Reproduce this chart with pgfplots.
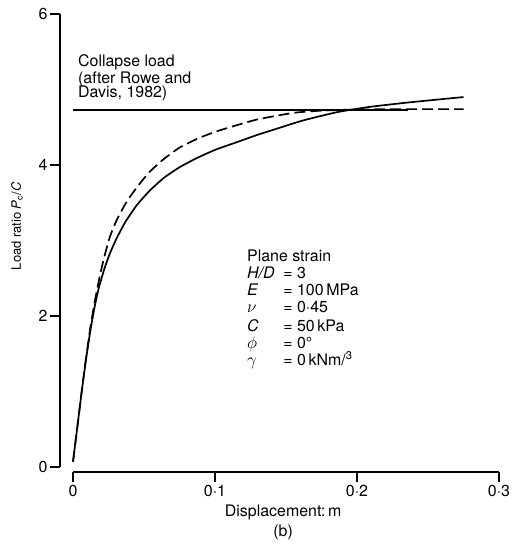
\documentclass[border=0pt]{standalone}
\usepackage{pgfplots}
\pgfplotsset{compat=1.18}
\usepackage{fontspec}
\setmainfont{TeX Gyre Heros}
\begin{document}
\begin{tikzpicture}[font=\fontsize{16}{19}\selectfont]
\begin{axis}[
  scale only axis, width=426bp, height=453bp,
  at={(0,0)}, anchor=south west,
  xmin=0, xmax=0.3, ymin=0, ymax=6,
  clip=false,
  axis x line=bottom, axis y line=left,
  axis line style={-, line width=1.3bp},
  axis x line shift=5bp, axis y line shift=13bp,
  xtick={0,0.1,0.2,0.3}, xticklabels={0,0·1,0·2,0·3},
  ytick={0,2,4,6}, yticklabels={0,2,4,6},
  tick align=outside, major tick length=10bp,
  tick style={line width=1.3bp, black},
  tick label style={font=\fontsize{16}{19}\selectfont},
  yticklabel style={xshift=1bp},
  minor tick num=0,
]
% solid curve
\addplot[black, line width=1.7bp, smooth, tension=0.3] coordinates {
(0.0,0.07) (0.003,0.52) (0.006,0.98) (0.009,1.40) (0.012,1.78) (0.015,2.10)
(0.018,2.36) (0.022,2.62) (0.026,2.83) (0.031,3.04) (0.037,3.25) (0.045,3.47)
(0.054,3.66) (0.064,3.83) (0.075,3.97) (0.087,4.09) (0.100,4.20) (0.115,4.30)
(0.130,4.40) (0.145,4.49) (0.162,4.59) (0.186,4.70) (0.209,4.77) (0.237,4.83)
(0.275,4.90)};
% dashed curve
\addplot[black, line width=1.7bp, dash pattern=on 11bp off 5bp, smooth, tension=0.3] coordinates {
(0.0,0.07) (0.003,0.52) (0.006,0.98) (0.009,1.42) (0.012,1.82) (0.015,2.16)
(0.019,2.54) (0.022,2.78) (0.026,3.05) (0.031,3.28) (0.038,3.52) (0.046,3.73)
(0.054,3.91) (0.064,4.08) (0.075,4.23) (0.089,4.36) (0.1035,4.46) (0.129,4.60)
(0.155,4.69) (0.175,4.72) (0.200,4.735) (0.240,4.74) (0.275,4.74)};
% collapse load
\addplot[black, line width=1.5bp] coordinates {(0,4.73) (0.236,4.73)};

\node[anchor=base west, inner sep=0] at (axis cs:0.0035,5.30) {Collapse load};
\node[anchor=base west, inner sep=0] at (axis cs:0.0035,5.086) {(after Rowe and};
\node[anchor=base west, inner sep=0] at (axis cs:0.0035,4.89) {Davis, 1982)};

\node[anchor=base west, inner sep=0] at (axis cs:0.1225,2.728) {Plane strain};
\node[anchor=base west, inner sep=0] at (axis cs:0.1225,2.503) {\textit{H/D}};
\node[anchor=base west, inner sep=0] at (axis cs:0.1225,2.265) {\textit{E}};
\node[anchor=base west, inner sep=0] at (axis cs:0.1225,2.040) {$\nu$};
\node[anchor=base west, inner sep=0] at (axis cs:0.1225,1.801) {\textit{C}};
\node[anchor=base west, inner sep=0] at (axis cs:0.1225,1.576) {$\phi$};
\node[anchor=base west, inner sep=0] at (axis cs:0.1225,1.338) {$\gamma$};
\node[anchor=base west, inner sep=0] at (axis cs:0.148,2.503) {= 3};
\node[anchor=base west, inner sep=0] at (axis cs:0.148,2.265) {= 100\,MPa};
\node[anchor=base west, inner sep=0] at (axis cs:0.148,2.040) {= 0·45};
\node[anchor=base west, inner sep=0] at (axis cs:0.148,1.801) {= 50\,kPa};
\node[anchor=base west, inner sep=0] at (axis cs:0.148,1.576) {= 0°};
\node[anchor=base west, inner sep=0] at (axis cs:0.148,1.338) {= 0\,kNm/\textsuperscript{3}};

\node[anchor=base, inner sep=0] at (axis cs:0.148,-0.662) {Displacement:\,m};
\node[anchor=base, inner sep=0] at (axis cs:0.148,-0.927) {(b)};
\node[rotate=90, anchor=center, inner sep=0, font=\fontsize{13}{15}\selectfont] at (axis cs:-0.0394,3.19) {Load ratio \textit{P}\textsubscript{c}/\textit{C}};
\end{axis}
\pgfresetboundingbox
\path (-73bp,-80bp) rectangle (451bp,467bp);
\end{tikzpicture}
\end{document}
